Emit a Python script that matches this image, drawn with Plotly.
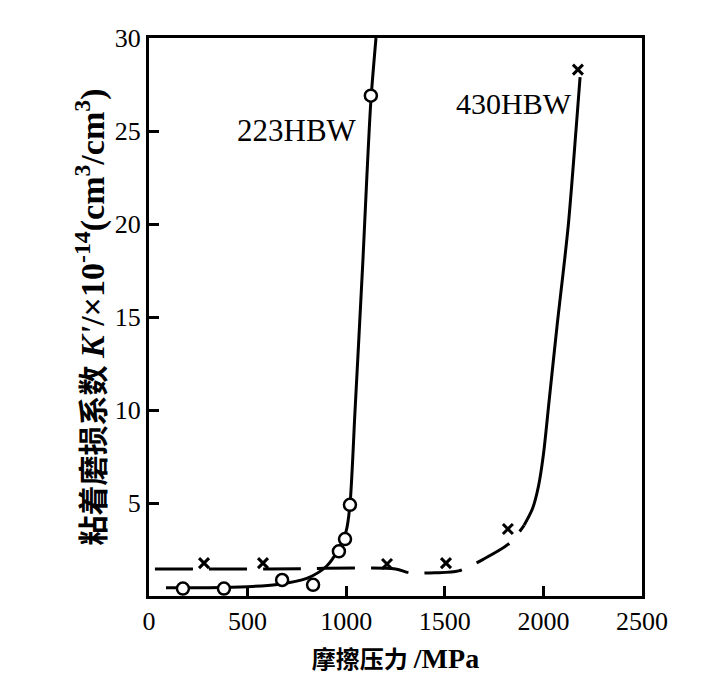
import plotly.graph_objects as go

# measured points
hbw223_x = [172, 380, 675, 832, 963, 994, 1019, 1125]
hbw223_y = [0.4, 0.4, 0.86, 0.6, 2.4, 3.06, 4.9, 26.9]
hbw430_x = [279, 578, 1207, 1506, 1820, 2175]
hbw430_y = [1.77, 1.77, 1.72, 1.77, 3.6, 28.3]

# fitted curves
curve223_x = [86, 300, 500, 650, 800, 900, 960, 1000, 1019, 1045, 1085, 1105, 1125, 1151]
curve223_y = [0.45, 0.45, 0.5, 0.62, 0.95, 1.6, 2.5, 3.5, 4.9, 10.0, 18.1, 22.6, 26.6, 30]
curve430_dash_x = [30, 600, 1250, 1320, 1450, 1570, 1700, 1830, 1902]
curve430_dash_y = [1.45, 1.45, 1.45, 1.25, 1.25, 1.35, 2.0, 2.85, 3.8]
curve430_solid_x = [1902, 1945, 1975, 2000, 2030, 2069, 2125, 2165, 2186]
curve430_solid_y = [3.8, 4.7, 5.9, 7.6, 10.6, 14.5, 19.8, 25.0, 27.9]

x_ticks = [0, 500, 1000, 1500, 2000, 2500]
y_ticks = [5, 10, 15, 20, 25, 30]

FONT = "Liberation Serif, Noto Sans CJK SC"

fig = go.Figure()
fig.add_trace(go.Scatter(x=curve223_x, y=curve223_y, mode="lines",
                         line=dict(color="black", width=3, shape="spline", smoothing=0.8)))
fig.add_trace(go.Scatter(x=curve430_dash_x, y=curve430_dash_y, mode="lines",
                         line=dict(color="black", width=3, shape="spline", smoothing=0.8,
                                   dash="38px,16px")))
fig.add_trace(go.Scatter(x=curve430_solid_x, y=curve430_solid_y, mode="lines",
                         line=dict(color="black", width=3, shape="spline", smoothing=0.8)))
fig.add_trace(go.Scatter(x=hbw223_x, y=hbw223_y, mode="markers",
                         marker=dict(symbol="circle", size=12, color="white",
                                     line=dict(color="black", width=2.5))))
fig.add_trace(go.Scatter(x=hbw430_x, y=hbw430_y, mode="markers",
                         marker=dict(symbol="x-thin", size=10,
                                     line=dict(color="black", width=3))))

fig.add_annotation(x=752, y=25.05, text="223HBW", showarrow=False,
                   font=dict(family=FONT, size=31, color="black"))
fig.add_annotation(x=2155, y=26.5, text="430HBW", showarrow=False, xanchor="right",
                   font=dict(family=FONT, size=30, color="black"))

fig.update_layout(
    width=708, height=683,
    margin=dict(l=141, r=74, t=30, b=95),
    paper_bgcolor="white", plot_bgcolor="white",
    showlegend=False,
    font=dict(family=FONT, color="black"),
)
fig.update_xaxes(range=[0, 2500], tickvals=x_ticks, ticktext=[str(v) for v in x_ticks],
                 showgrid=False, zeroline=False, showline=True, linecolor="black",
                 linewidth=3, mirror=True, ticks="inside", ticklen=10, tickwidth=2.5,
                 tickcolor="black", tickfont=dict(family=FONT, size=26, color="black"),
                 title=dict(text="<b>摩擦压力 <span style='font-size:28px'>/MPa</span></b>",
                            font=dict(family=FONT, size=24, color="black"),
                            standoff=16))
fig.update_yaxes(range=[0, 30], tickvals=y_ticks, ticktext=[str(v) for v in y_ticks],
                 showgrid=False, zeroline=False, showline=True, linecolor="black",
                 linewidth=3, mirror=True, ticks="inside", ticklen=10, tickwidth=2.5,
                 tickcolor="black", tickfont=dict(family=FONT, size=26, color="black"),
                 title=dict(text="<b>粘着磨损系数 <span style='font-size:34px'><i>K'</i>/×10<sup>-14</sup>(cm<sup>3</sup>/cm<sup>3</sup>)</span></b>",
                            font=dict(family=FONT, size=30, color="black"), standoff=2))

fig.write_html("out.html")
